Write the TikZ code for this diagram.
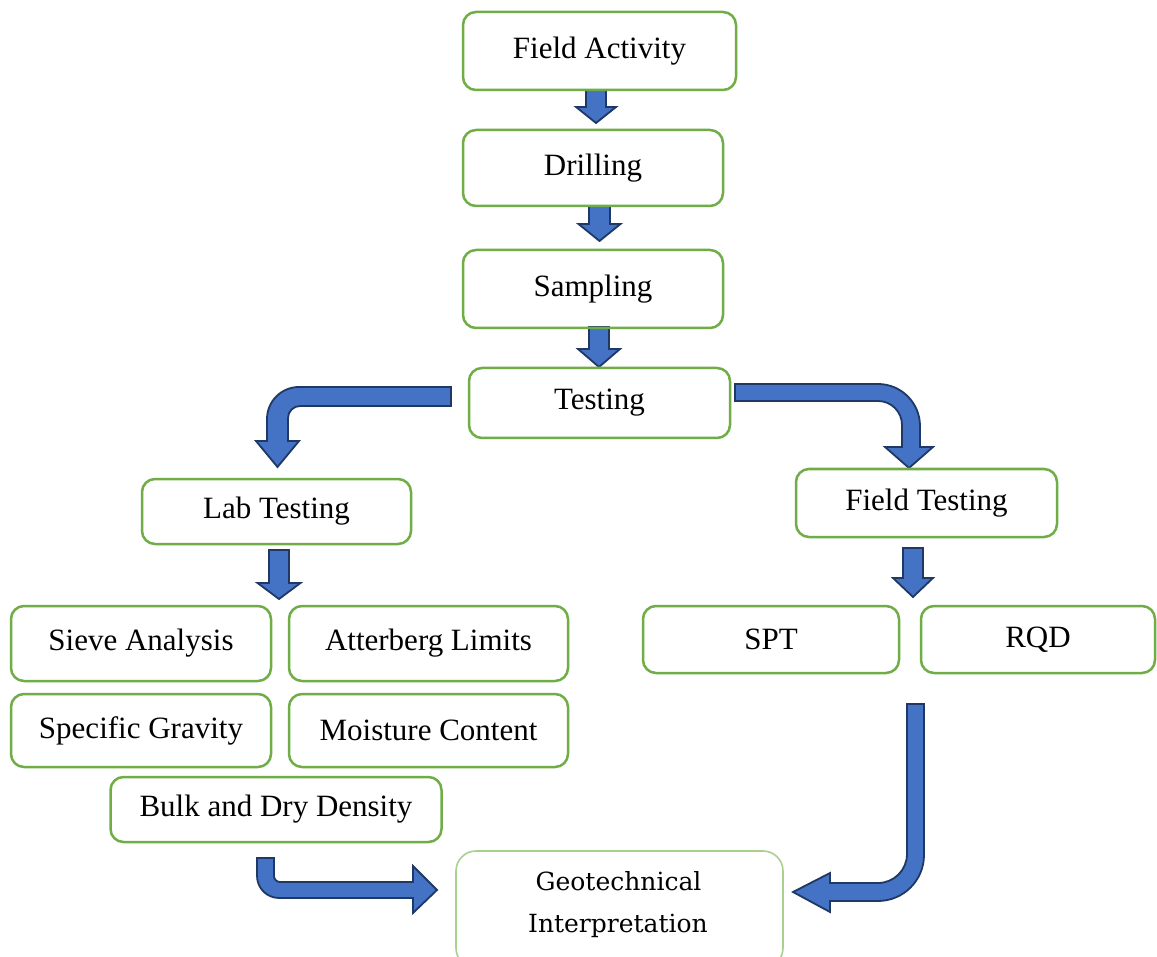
\documentclass[tikz,border=0pt]{standalone}
\usepackage{fontspec}
\setmainfont{Liberation Serif}
\newfontfamily\geofont{DejaVu Serif}
\definecolor{boxgreen}{HTML}{70AD47}
\definecolor{lightgreen}{HTML}{A9D18E}
\definecolor{arrowfill}{HTML}{4472C4}
\definecolor{arrowline}{HTML}{1F3864}
\newcommand\blockdown[6]{% xc, top, headstart, tip, half shaft, half head
  \fill[blockarrow] (#1-#5,#2) -- (#1+#5,#2) -- (#1+#5,#3) -- (#1+#6,#3) -- (#1,#4) -- (#1-#6,#3) -- (#1-#5,#3) -- cycle;}
\tikzset{
  box/.style={draw=boxgreen, line width=2.5pt, rounded corners=13pt, inner sep=0pt,
    align=center, font=\fontsize{31}{36}\selectfont},
  geobox/.style={draw=lightgreen, line width=1.6pt, rounded corners=20pt, inner sep=0pt},
  geotext/.style={font=\geofont\fontsize{25}{30}\selectfont, inner sep=0pt, anchor=base},
  blockarrow/.style={fill=arrowfill, draw=arrowline, line width=1.8pt, line join=miter},
}
\begin{document}
\begin{tikzpicture}[x=1pt, y=-1pt]
\useasboundingbox[fill=white] (0,0) rectangle (1157,957);

% straight block arrows
\blockdown{596}{90}{107}{123}{10}{20}
\blockdown{599.5}{206}{224}{241}{10.5}{21}
\blockdown{599}{327}{349}{367}{10}{21}
\blockdown{279}{550}{583}{599}{10}{21.5}
\blockdown{913}{548}{578}{597}{10}{20}

% bent arrow: Testing -> Lab Testing
\draw[blockarrow] (451,387) -- (299,387) .. controls (281.3,387) and (267,401.3) .. (267,419)
  -- (267,441) -- (256,441) -- (277.5,467) -- (299,441) -- (288,441) -- (288,418)
  .. controls (288,411.4) and (293.4,406) .. (300,406) -- (451,406) -- cycle;

% bent arrow: Testing -> Field Testing
\draw[blockarrow] (735,384) -- (878,384) .. controls (901.2,384) and (920,402.8) .. (920,426)
  -- (920,447) -- (933,447) -- (909,468) -- (885,447) -- (902,447) -- (902,425)
  .. controls (902,411.75) and (891.25,401) .. (878,401) -- (735,401) -- cycle;

% bent arrow: Bulk -> Geotechnical
\draw[blockarrow] (257,858) -- (274,858) -- (274,876) .. controls (274,879.3) and (276.7,882) .. (280,882)
  -- (413,882) -- (413,866) -- (437,890) -- (413,913) -- (413,898) -- (279,898)
  .. controls (266.9,898) and (257,888.1) .. (257,876) -- cycle;

% bent arrow: RQD -> Geotechnical
\draw[blockarrow] (907,704) -- (924,704) -- (924,855) .. controls (924,880.4) and (903.4,901) .. (878,901)
  -- (830,901) -- (830,912) -- (793,892) -- (830,873) -- (830,883) -- (878,883)
  .. controls (894,883) and (907,870) .. (907,854) -- cycle;

% boxes
\node[box, minimum width=273, minimum height=78] (fa) at (599.5,51) {Field Activity};
\node[box, minimum width=260, minimum height=76] (dr) at (593,168) {Drilling};
\node[box, minimum width=260, minimum height=78] (sa) at (593,289) {Sampling};
\node[box, minimum width=261, minimum height=70] (te) at (599.5,403) {Testing};
\node[box, minimum width=269, minimum height=65] (lab) at (276.5,511.5) {Lab Testing};
\node[box, minimum width=261, minimum height=68] (ft) at (926.5,503) {Field Testing};
\node[box, minimum width=260, minimum height=75] (sieve) at (141,643.5) {Sieve Analysis};
\node[box, minimum width=279, minimum height=75] (att) at (428.5,643.5) {Atterberg Limits};
\node[box, minimum width=260, minimum height=73] (sg) at (141,730.5) {Specific Gravity};
\node[box, minimum width=279, minimum height=73] (mc) at (428.5,730.5) {Moisture Content};
\node[box, minimum width=331, minimum height=65] (bulk) at (276,809.5) {Bulk and Dry Density};
\node[box, minimum width=256, minimum height=67] (spt) at (771,639.5) {SPT};
\node[box, minimum width=234, minimum height=67] (rqd) at (1038,639.5) {RQD};
\node[geobox, minimum width=327, minimum height=117] (geo) at (619.5,909.5) {};
\node[geotext] (geo1) at (618.5,890) {Geotechnical};
\node[geotext] (geo2) at (618,932) {Interpretation};
\end{tikzpicture}
\end{document}
